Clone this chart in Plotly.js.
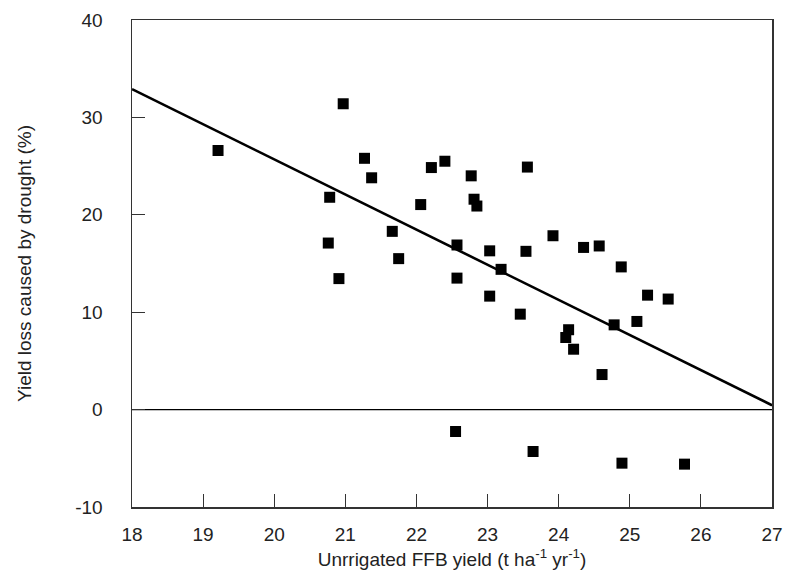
<!DOCTYPE html>
<html>
<head>
<meta charset="utf-8">
<script src="https://cdn.plot.ly/plotly-3.0.1.min.js"></script>
<style>html,body{margin:0;padding:0;background:#fff;}#chart{width:786px;height:580px;}</style>
</head>
<body>
<div id="chart"></div>
<script>
// Unirrigated FFB yield (t ha-1 yr-1)
const yieldX = [19.21, 20.97, 21.27, 21.37, 22.21, 22.40, 20.78, 22.06, 21.66, 20.76,
  21.75, 22.57, 20.91, 22.57, 22.77, 22.81, 22.85, 23.56, 23.03, 23.03,
  23.19, 23.46, 23.54, 23.92, 24.35, 24.57, 24.88, 24.14, 24.10, 24.21,
  24.61, 24.78, 25.10, 25.25, 25.54, 22.55, 23.64, 24.89, 25.77];
// Yield loss caused by drought (%)
const lossY = [26.6, 31.4, 25.8, 23.8, 24.85, 25.5, 21.8, 21.05, 18.3, 17.1,
  15.5, 16.9, 13.45, 13.5, 24.0, 21.6, 20.9, 24.9, 16.3, 11.65,
  14.4, 9.8, 16.25, 17.85, 16.65, 16.8, 14.65, 8.2, 7.4, 6.2,
  3.6, 8.7, 9.05, 11.75, 11.35, -2.25, -4.3, -5.5, -5.6];
// Fitted regression line
const fitX = [18, 27];
const fitY = [32.9, 0.45];
// Zero reference line
const zeroX = [18, 27];
const zeroY = [0, 0];
const xTicks = [18, 19, 20, 21, 22, 23, 24, 25, 26, 27];
const yTicks = [-10, 0, 10, 20, 30, 40];

const font = {family: '"Liberation Sans", Arial, Helvetica, sans-serif', size: 19, color: '#222'};

const traces = [
  {x: zeroX, y: zeroY, mode: 'lines', line: {color: '#000', width: 1.2}, hoverinfo: 'skip', showlegend: false},
  {x: fitX, y: fitY, mode: 'lines', line: {color: '#000', width: 2.6}, showlegend: false},
  {x: yieldX, y: lossY, mode: 'markers', type: 'scatter',
   marker: {symbol: 'square', size: 11, color: '#000'}, showlegend: false}
];

const layout = {
  width: 786, height: 580,
  margin: {l: 132, r: 14, t: 20, b: 73},
  paper_bgcolor: '#fff', plot_bgcolor: '#fff',
  font: font,
  xaxis: {
    range: [18, 27], tickvals: xTicks, ticktext: xTicks.map(String),
    ticks: 'inside', ticklen: 13, tickwidth: 1.2, tickcolor: '#333',
    showline: true, linecolor: '#333', linewidth: 1.5, mirror: true,
    showgrid: false, zeroline: false, ticklabelstandoff: 10,
    title: {text: 'Unrrigated FFB yield (t ha<sup>-1</sup> yr<sup>-1</sup>)', font: font, standoff: 8},
    automargin: false
  },
  yaxis: {
    range: [-10, 40], tickvals: yTicks, ticktext: yTicks.map(String),
    ticks: 'inside', ticklen: 13, tickwidth: 1.2, tickcolor: '#333',
    showline: true, linecolor: '#333', linewidth: 1.5, mirror: true,
    showgrid: false, zeroline: false, ticklabelstandoff: 24,
    title: {text: 'Yield loss caused by drought (%)', font: font, standoff: 38},
    automargin: false
  }
};

Plotly.newPlot('chart', traces, layout, {displayModeBar: false, staticPlot: true});
</script>
</body>
</html>
